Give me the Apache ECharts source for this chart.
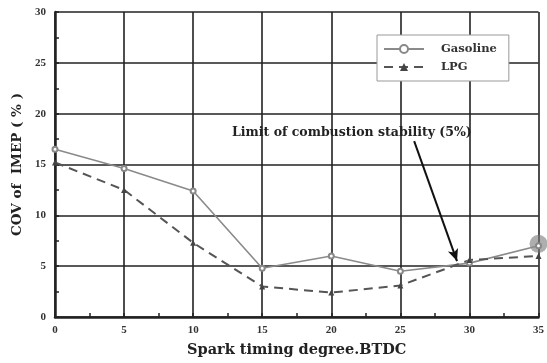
<!DOCTYPE html>
<html><head><meta charset="utf-8">
<script src="https://cdn.jsdelivr.net/npm/echarts@6/dist/echarts.min.js"></script>
<style>html,body{margin:0;padding:0;background:#fff}#c{width:547px;height:363px}</style>
</head><body><div id="c"></div>
<script>
const xValues = [0, 5, 10, 15, 20, 25, 30, 35];
const gasoline = [16.5, 14.6, 12.4, 4.8, 6.0, 4.5, 5.3, 7.0];
const lpg = [15.2, 12.5, 7.3, 3.0, 2.4, 3.1, 5.6, 6.0];
const blob = [[35, 7.2]];
const arrowLine = [[26.0, 17.3], [29.1, 5.5]];

const font = 'DejaVu Serif';
const tickFont = 'Liberation Serif';
const chart = echarts.init(document.getElementById('c'));
chart.setOption({
  animation: false,
  backgroundColor: '#fff',
  grid: { left: 55, right: 8, top: 12, bottom: 45 },
  xAxis: {
    type: 'value', min: 0, max: 35, interval: 5,
    name: 'Spark timing degree.BTDC', nameLocation: 'middle', nameGap: 26,
    nameTextStyle: { fontFamily: font, fontWeight: 'bold', fontSize: 14.5, color: '#222' },
    axisLine: { show: true, lineStyle: { color: '#222', width: 2.5 } },
    axisTick: { inside: true, length: 4, lineStyle: { color: '#222', width: 1.5 } },
    minorTick: { show: true, splitNumber: 2, length: 4, lineStyle: { color: '#222', width: 1.5 } },
    axisLabel: { fontFamily: tickFont, fontWeight: 'bold', fontSize: 11, color: '#333', margin: 8 },
    splitLine: { show: true, lineStyle: { color: '#222', width: 1.6 } }
  },
  yAxis: {
    type: 'value', min: 0, max: 30, interval: 5,
    name: 'COV of  IMEP ( % )', nameLocation: 'middle', nameGap: 30,
    nameTextStyle: { fontFamily: font, fontWeight: 'bold', fontSize: 13.5, color: '#222' },
    axisLine: { show: true, lineStyle: { color: '#222', width: 2.5 } },
    axisTick: { inside: true, length: 4, lineStyle: { color: '#222', width: 1.5 } },
    minorTick: { show: true, splitNumber: 2, length: 4, lineStyle: { color: '#222', width: 1.5 } },
    axisLabel: { fontFamily: tickFont, fontWeight: 'bold', fontSize: 11, color: '#333', margin: 9 },
    splitLine: { show: true, lineStyle: { color: '#222', width: 1.6 } }
  },
  legend: {
    left: 377, top: 35, orient: 'vertical', itemGap: 6, itemWidth: 40, itemHeight: 10,
    backgroundColor: '#fff', borderColor: '#999', borderWidth: 1,
    padding: [8, 12, 8, 6],
    textStyle: { fontFamily: font, fontWeight: 'bold', fontSize: 11.5, color: '#333', padding: [0, 0, 0, 12] },
    data: ['Gasoline', 'LPG']
  },
  series: [
    {
      name: 'Gasoline', type: 'line',
      data: xValues.map((x, i) => [x, gasoline[i]]),
      symbol: 'emptyCircle', symbolSize: 5,
      lineStyle: { color: '#8a8a8a', width: 1.6 },
      itemStyle: { color: '#888', borderWidth: 1.2 }
    },
    {
      name: 'LPG', type: 'line',
      data: xValues.map((x, i) => [x, lpg[i]]),
      symbol: 'triangle', symbolSize: 6,
      lineStyle: { color: '#555', width: 2, type: [9, 6] },
      itemStyle: { color: '#444' },
      markLine: {
        silent: true, symbol: ['none', 'arrow'], symbolSize: [8, 12],
        label: { show: false },
        lineStyle: { color: '#111', width: 2, type: 'solid' },
        data: [[{ coord: arrowLine[0] }, { coord: arrowLine[1] }]]
      }
    },
    {
      name: 'blob', type: 'scatter', data: blob, symbolSize: 18,
      itemStyle: { color: 'rgba(120,120,120,0.75)' }, silent: true, z: 1
    }
  ],
  graphic: [
    {
      type: 'text', left: 232, top: 126,
      style: { text: 'Limit of combustion stability (5%)', fontFamily: font, fontWeight: 'bold', fontSize: 12.5, fill: '#222' }
    }
  ]
});
</script></body></html>
